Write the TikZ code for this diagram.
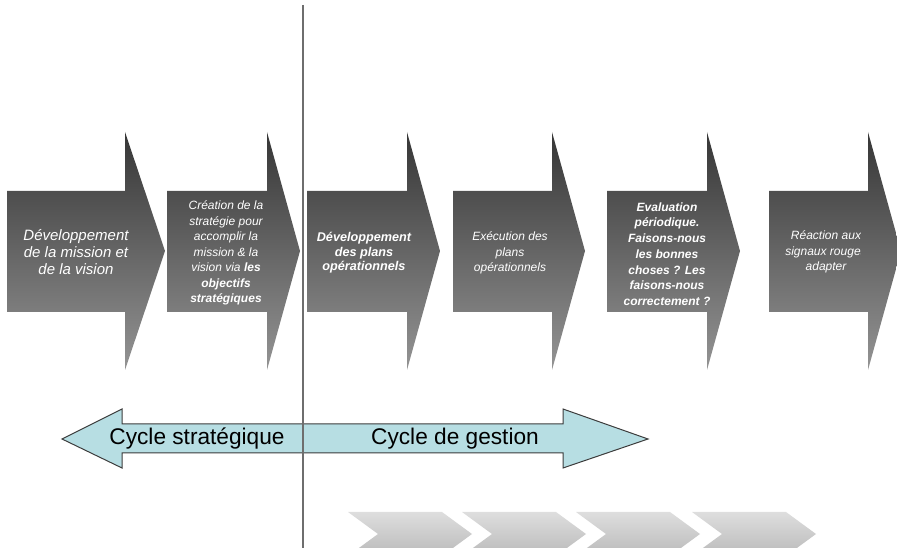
\documentclass[tikz,border=0pt]{standalone}
\usepackage{fontspec}
\setmainfont{Liberation Sans}
\usepackage{tikz}
\usepackage{xcolor}

\definecolor{steptop}{RGB}{54,54,54}
\definecolor{stepbot}{RGB}{148,148,148}
\definecolor{cyclefill}{RGB}{183,222,227}
\definecolor{cycleline}{RGB}{60,60,60}
\definecolor{chevtop}{RGB}{222,222,222}
\definecolor{chevbot}{RGB}{186,186,186}
\definecolor{divider}{RGB}{110,110,110}

\tikzset{
    stepshape/.style={top color=steptop,bottom color=stepbot},
    steptext/.style={text=white,align=center,inner sep=0pt,
        font=\fontsize{9}{11.6}\selectfont\itshape},
    stepbold/.style={steptext,font=\fontsize{9}{11.6}\selectfont\bfseries\itshape},
    chevron/.style={top color=chevtop,bottom color=chevbot},
    cyclelabel/.style={inner sep=0pt,font=\fontsize{17}{19}\selectfont}
}

\begin{document}
\begin{tikzpicture}[x=0.75pt,y=-0.75pt]
            \clip (0,0) rectangle (897,548);

            % process steps
            \path[stepshape] (7,191) -- (125,191) -- (125,132) -- (165,251) -- (125,370) -- (125,312) -- (7,312) -- cycle;
            \path[stepshape] (167,191) -- (267,191) -- (267,132) -- (300,251) -- (267,370) -- (267,312) -- (167,312) -- cycle;
            \path[stepshape] (307,191) -- (407,191) -- (407,132) -- (440,251) -- (407,370) -- (407,312) -- (307,312) -- cycle;
            \path[stepshape] (453,191) -- (552,191) -- (552,132) -- (585,251) -- (552,370) -- (552,312) -- (453,312) -- cycle;
            \path[stepshape] (607,191) -- (707,191) -- (707,132) -- (740,251) -- (707,370) -- (707,312) -- (607,312) -- cycle;
            \path[stepshape] (769,191) -- (868,191) -- (868,132) -- (901,251) -- (868,370) -- (868,312) -- (769,312) -- cycle;

            \node[steptext,font=\fontsize{11.25}{12.75}\selectfont\itshape] (mission) at (76,252)
                {Développement\\de la mission et\\de la vision};
            \node[steptext] (strategie) at (226,253)
                {Création de la\\stratégie pour\\accomplir la\\mission \& la\\vision via \textbf{les}\\\textbf{objectifs}\\\textbf{stratégiques}};
            \node[stepbold,font=\fontsize{9.5}{10.9}\selectfont\bfseries\itshape] (plansdev) at (364,253)
                {Développement\\des plans\\opérationnels};
            \node[steptext] (plansexe) at (510,253)
                {Exécution des\\plans\\opérationnels};
            \node[stepbold,font=\fontsize{9}{11.8}\selectfont\bfseries\itshape] (evaluation) at (667,254)
                {Evaluation\\périodique.\\Faisons-nous\\les bonnes\\choses ? Les\\faisons-nous\\correctement ?};
            \begin{scope}
                \clip (769,180) rectangle (860,320);
                \node[steptext] (reaction) at (826,252)
                    {Réaction aux\\signaux rouges\\adapter};
            \end{scope}

            % strategic / management cycle
            \filldraw[fill=cyclefill,draw=cycleline,line width=0.75]
                (62,439) -- (122,409) -- (122,424) -- (563,424) -- (563,409) -- (648,439)
                -- (563,468) -- (563,453) -- (122,453) -- (122,468) -- cycle;
            \node[cyclelabel] (strat) at (197,439) {Cycle stratégique};
            \node[cyclelabel] (gestion) at (455,439) {Cycle de gestion};

            \draw[divider,line width=1.5] (303,5) -- (303,548);

            % chevrons at the bottom
            \path[chevron] (348,512) -- (442,512) -- (472,534) -- (442,556) -- (348,556) -- (378,534) -- cycle;
            \path[chevron] (462,512) -- (556,512) -- (586,534) -- (556,556) -- (462,556) -- (492,534) -- cycle;
            \path[chevron] (576,512) -- (670,512) -- (700,534) -- (670,556) -- (576,556) -- (606,534) -- cycle;
            \path[chevron] (692,512) -- (786,512) -- (816,534) -- (786,556) -- (692,556) -- (722,534) -- cycle;
        \end{tikzpicture}
\end{document}
